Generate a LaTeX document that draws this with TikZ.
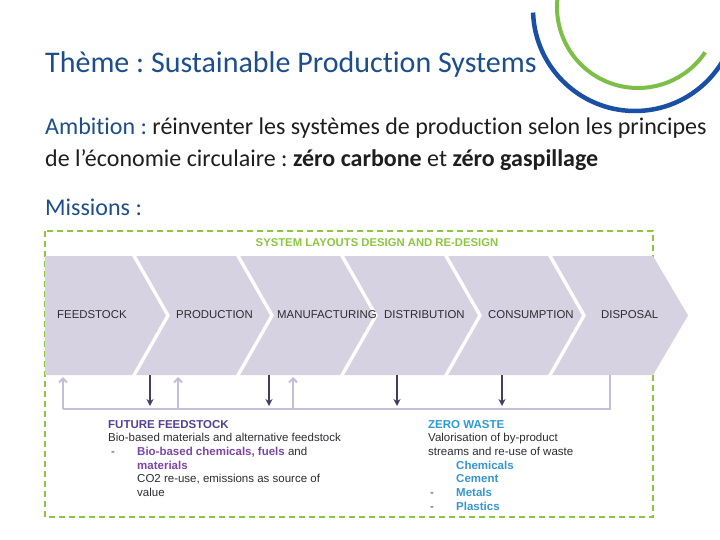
\documentclass[tikz,border=0pt]{standalone}
\usepackage{fontspec}
\setmainfont{Carlito}[Ligatures=NoCommon]
\newfontfamily\arialfont{Liberation Sans}
\usetikzlibrary{arrows.meta}
\frenchspacing

\definecolor{headblue}{RGB}{28,78,140}
\definecolor{bodytext}{RGB}{30,30,30}
\definecolor{arcblue}{RGB}{25,80,165}
\definecolor{arcgreen}{RGB}{125,190,70}
\definecolor{framegreen}{RGB}{141,198,63}
\definecolor{chevfill}{RGB}{214,210,226}
\definecolor{lavline}{RGB}{196,190,218}
\definecolor{darkarrow}{RGB}{70,60,100}
\definecolor{stagegray}{RGB}{45,45,50}
\definecolor{ffpurple}{RGB}{85,65,145}
\definecolor{bioviolet}{RGB}{125,70,165}
\definecolor{zwblue}{RGB}{45,155,210}
\definecolor{chemblue}{RGB}{55,150,205}

\begin{document}
\begin{tikzpicture}[%
    x=1pt, y=-1pt,
    headline/.style={%
        anchor=base west,
        inner sep=0pt,
        text=headblue,
        font=\fontsize{30}{36}\selectfont
    },
    bodyline/.style={%
        anchor=base west,
        inner sep=0pt,
        text=bodytext,
        font=\fontsize{24}{29}\selectfont
    },
    frame/.style={draw=framegreen, line width=1.5pt, dash pattern=on 6pt off 4pt},
    frametitle/.style={text=framegreen, font=\arialfont\bfseries\fontsize{11.3}{13}\selectfont, inner sep=0pt},
    stage/.style={%
        anchor=west,
        inner sep=0pt,
        text=stagegray,
        font=\arialfont\fontsize{11.4}{13}\selectfont
    },
    gap/.style={draw=white, line width=3.4pt, line join=miter},
    loopline/.style={draw=lavline, line width=2.5pt},
    uparrow/.style={draw=lavline, line width=2pt, -{Straight Barb[length=4pt,width=8pt]}},
    downarrow/.style={draw=darkarrow, line width=1.5pt, -{Stealth[length=7pt,width=7pt]}},
    block/.style={%
        anchor=north west,
        inner sep=0pt,
        align=left,
        text=stagegray,
        font=\arialfont\fontsize{11.5}{13.7}\selectfont
    }
]
\useasboundingbox (0,0) rectangle (720,540);

% logo arcs, cut by the page edge
\begin{scope}
    \clip (0,0) rectangle (720,540);
    \draw[arcblue, line width=4.5pt] (635,9) ++(178:102) arc[start angle=178, end angle=20, radius=102];
    \draw[arcgreen, line width=4pt] (638,7) ++(192:81) arc[start angle=192, end angle=34, radius=81];
\end{scope}

% header
\node[headline] (theme) at (45,73) {Thème : Sustainable Production Systems};
\node[bodyline] (ambition) at (45,135) {{\color{headblue}Ambition :} réinventer les systèmes de production selon les principes};
\node[bodyline] (ambition2) at (45,166.7) {de l’économie circulaire : \textbf{zéro carbone} et \textbf{zéro gaspillage}};
\node[bodyline, text=headblue] (missions) at (45,215.7) {Missions :};

% green frame
\draw[frame] (45,231) rectangle (653,517);
\node[frametitle] (layout) at (377,243) {SYSTEM LAYOUTS DESIGN AND RE-DESIGN};

% chevrons
\fill[chevfill] (45,256) -- (653,256) -- (688,315.5) -- (653,375) -- (45,375) -- cycle;
\foreach \t in {168,272,376,480,584}
    \draw[gap] (\t-35,254) -- (\t,315.5) -- (\t-35,377);

\node[stage] (feed)  at (57,315)  {FEEDSTOCK};
\node[stage] (prod)  at (176,315) {PRODUCTION};
\node[stage] (manu)  at (277,315) {MANUFACTURING};
\node[stage] (distr) at (384,315) {DISTRIBUTION};
\node[stage] (cons)  at (488,315) {CONSUMPTION};
\node[stage] (disp)  at (601,315) {DISPOSAL};

% in and out points under the chevrons
\coordinate (feed-up)   at (63,377);
\coordinate (prod-up)   at (178,377);
\coordinate (manu-up)   at (293,377);
\coordinate (prod-out)  at (150,375);
\coordinate (manu-out)  at (269,375);
\coordinate (distr-out) at (397,375);
\coordinate (cons-out)  at (502,375);
\coordinate (disp-out)  at (610,375);
\coordinate (loop) at (0,409);
\coordinate (sink) at (0,406);

% return loop
\draw[loopline] (disp-out) |- (manu-up |- loop);
\draw[loopline, line width=2pt] (manu-up |- loop) -- (feed-up |- loop);
\foreach \c in {feed-up,prod-up,manu-up}
    \draw[uparrow] (\c |- loop) -- (\c);
\foreach \c in {prod-out,manu-out,distr-out,cons-out}
    \draw[downarrow] (\c) -- (\c |- sink);

% text under the loop
\node[block] (future) at (108,419.8) {%
    {\bfseries\color{ffpurple}FUTURE FEEDSTOCK}\\
    Bio-based materials and alternative feedstock\\
    \makebox[29pt][l]{\hspace{3pt}-}{\color{bioviolet}\bfseries Bio-based chemicals, fuels} and\\
    \hspace*{29pt}{\color{bioviolet}\bfseries materials}\\
    \hspace*{29pt}CO2 re-use, emissions as source of\\
    \hspace*{29pt}value};
\node[block] (zerowaste) at (428,419.8) {%
    {\bfseries\color{zwblue}ZERO WASTE}\\
    Valorisation of by-product\\
    streams and re-use of waste\\
    \hspace*{28pt}{\color{chemblue}\bfseries Chemicals}\\
    \hspace*{28pt}{\color{chemblue}\bfseries Cement}\\
    \makebox[28pt][l]{\hspace{2pt}-}{\color{chemblue}\bfseries Metals}\\
    \makebox[28pt][l]{\hspace{2pt}-}{\color{chemblue}\bfseries Plastics}};

\end{tikzpicture}
\end{document}
